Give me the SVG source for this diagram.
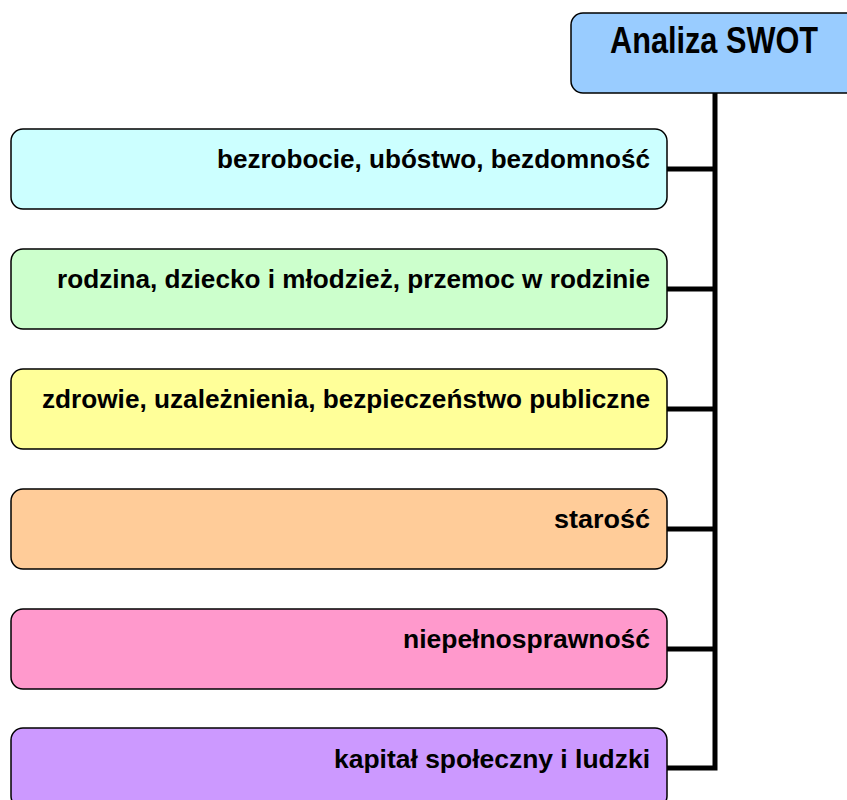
<svg xmlns="http://www.w3.org/2000/svg" width="847" height="800" viewBox="0 0 847 800">
<style>
.box{stroke:#000;stroke-width:1.5}
.t{font-family:"Liberation Sans Narrow","Liberation Sans",Arial,sans-serif;font-weight:bold;font-size:26px;fill:#000;text-anchor:end}
.title{font-family:"Liberation Sans Narrow","Liberation Sans",Arial,sans-serif;font-weight:bold;font-size:36px;fill:#000}
.c{fill:none;stroke:#000;stroke-width:5;stroke-linejoin:miter}
</style>
<rect width="847" height="800" fill="#fff"/>
<g id="connectors">
<path class="c" d="M715,93 V768 H667"/>
<path class="c" d="M667,169 H715 M667,289 H715 M667,409 H715 M667,529 H715 M667,649 H715"/>
</g>
<g id="root">
<rect class="box" x="571" y="13" width="300" height="80" rx="12" fill="#99CCFF"/>
<text class="title" x="610" y="53" textLength="208" lengthAdjust="spacingAndGlyphs">Analiza SWOT</text>
</g>
<g id="n1">
<rect class="box" x="11" y="129" width="656" height="80" rx="12" fill="#CCFFFF"/>
<text class="t" x="650" y="168" textLength="433" lengthAdjust="spacingAndGlyphs">bezrobocie, ubóstwo, bezdomność</text>
</g>
<g id="n2">
<rect class="box" x="11" y="249" width="656" height="80" rx="12" fill="#CCFFCC"/>
<text class="t" x="650" y="288" textLength="593" lengthAdjust="spacingAndGlyphs">rodzina, dziecko i młodzież, przemoc w rodzinie</text>
</g>
<g id="n3">
<rect class="box" x="11" y="369" width="656" height="80" rx="12" fill="#FFFF99"/>
<text class="t" x="650" y="408" textLength="608" lengthAdjust="spacingAndGlyphs">zdrowie, uzależnienia, bezpieczeństwo publiczne</text>
</g>
<g id="n4">
<rect class="box" x="11" y="489" width="656" height="80" rx="12" fill="#FFCC99"/>
<text class="t" x="650" y="528" textLength="96" lengthAdjust="spacingAndGlyphs">starość</text>
</g>
<g id="n5">
<rect class="box" x="11" y="609" width="656" height="80" rx="12" fill="#FF99CC"/>
<text class="t" x="650" y="648" textLength="247" lengthAdjust="spacingAndGlyphs">niepełnosprawność</text>
</g>
<g id="n6">
<rect class="box" x="11" y="728" width="656" height="80" rx="12" fill="#CC99FF"/>
<text class="t" x="650" y="768" textLength="316" lengthAdjust="spacingAndGlyphs">kapitał społeczny i ludzki</text>
</g>
</svg>
